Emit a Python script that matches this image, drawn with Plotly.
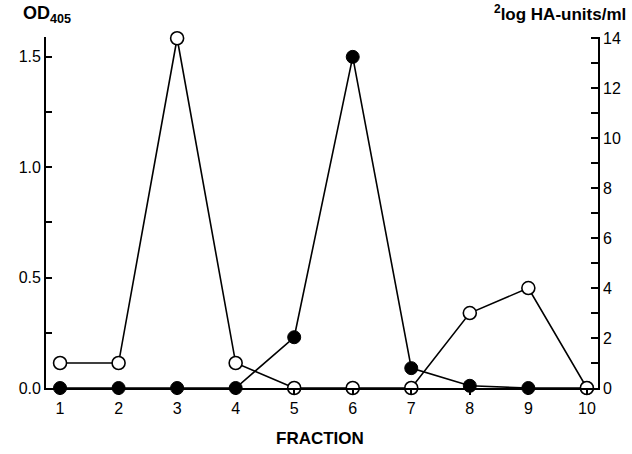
import plotly.graph_objects as go

fractions = [1, 2, 3, 4, 5, 6, 7, 8, 9, 10]
od405 = [0.0, 0.0, 0.0, 0.0, 0.23, 1.5, 0.09, 0.01, 0.0, 0.0]
ha_units = [1, 1, 14, 1, 0, 0, 0, 3, 4, 0]
x_ticks = [1, 2, 3, 4, 5, 6, 7, 8, 9, 10]
left_ticks = [0.0, 0.5, 1.0, 1.5]
left_labels = ["0.0", "0.5", "1.0", "1.5"]
right_ticks = [0, 2, 4, 6, 8, 10, 12, 14]

FONT = "Liberation Sans, Arial, Helvetica, sans-serif"

fig = go.Figure()
fig.add_trace(go.Scatter(
    x=fractions, y=ha_units, yaxis="y2", mode="lines+markers",
    line=dict(color="black", width=1.6),
    marker=dict(symbol="circle", size=13, color="white",
                line=dict(color="black", width=1.6)),
    showlegend=False, cliponaxis=False))
fig.add_trace(go.Scatter(
    x=fractions, y=od405, mode="lines+markers",
    line=dict(color="black", width=1.6),
    marker=dict(symbol="circle", size=13, color="black",
                line=dict(color="black", width=1)),
    showlegend=False, cliponaxis=False))

fig.update_layout(
    width=632, height=454,
    margin=dict(l=46, r=34, t=37, b=66, autoexpand=False),
    paper_bgcolor="white", plot_bgcolor="white",
    font=dict(family=FONT, size=16, color="black"),
    xaxis=dict(range=[0.76, 10.19], tickvals=x_ticks, ticks="outside",
               ticklen=5, tickwidth=1.5, tickcolor="black",
               showline=True, linecolor="black", linewidth=1.8,
               showgrid=False, zeroline=False, mirror=False,
               automargin=False, tickfont=dict(size=16)),
    yaxis=dict(range=[0, 1.59], tickvals=left_ticks, ticktext=left_labels,
               ticks="inside", ticklen=6, tickwidth=1.5, tickcolor="black",
               minor=dict(dtick=0.25, ticks="inside", ticklen=6,
                          tickwidth=1.5, tickcolor="black", tick0=0),
               showline=True, linecolor="black", linewidth=1.8,
               showgrid=False, zeroline=False, automargin=False,
               tickfont=dict(size=16)),
    yaxis2=dict(range=[0, 14.05], tickvals=right_ticks, overlaying="y",
                side="right", ticks="inside", ticklen=7, tickwidth=1.5,
                tickcolor="black",
                minor=dict(dtick=1, ticks="inside", ticklen=7,
                           tickwidth=1.5, tickcolor="black", tick0=0),
                showline=True, linecolor="black", linewidth=1.8,
                showgrid=False, zeroline=False, automargin=False,
                tickfont=dict(size=16)),
)

fig.add_annotation(text="<b>FRACTION</b>", xref="paper", yref="paper",
                   x=0.497, y=-0.11, yanchor="top", showarrow=False,
                   font=dict(size=17, family=FONT))
fig.add_annotation(text="<b>OD<sub>405</sub></b>", xref="paper", yref="paper",
                   x=-0.045, y=1.025, xanchor="left", yanchor="bottom",
                   showarrow=False, font=dict(size=18, family=FONT))
fig.add_annotation(text="<b><sup>2</sup>log HA-units/ml</b>", xref="paper",
                   yref="paper", x=1.055, y=1.03, xanchor="right",
                   yanchor="bottom", showarrow=False,
                   font=dict(size=17, family=FONT))

fig.write_html("out.html",
               config={"displayModeBar": False},
               post_script="document.body.style.margin='0';"
                           "document.body.style.overflow='hidden';")
